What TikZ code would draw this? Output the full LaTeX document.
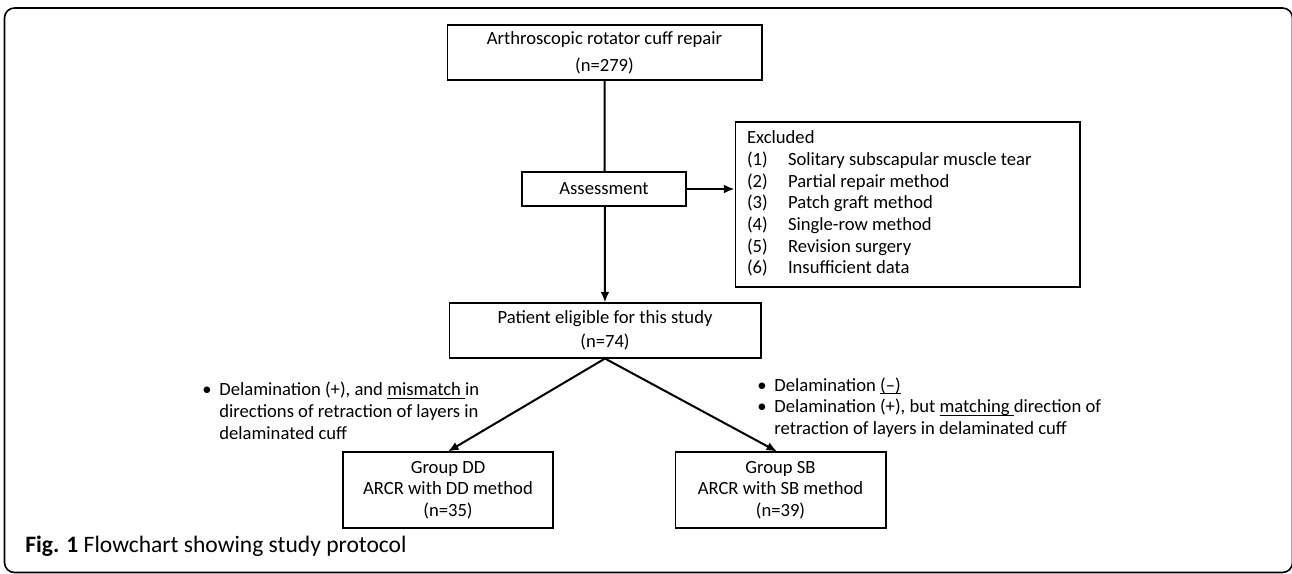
\documentclass[tikz,border=0pt]{standalone}
\usepackage{fontspec}
\setmainfont{Carlito}
\usetikzlibrary{arrows,arrows.meta,positioning}

% underline sitting close to the baseline
\newcommand{\undl}[1]{\setbox0\hbox{#1}\rlap{\rule[-1.6pt]{\wd0}{0.5pt}}\box0}

\begin{document}
\begin{tikzpicture}[->,>={Latex[length=6pt,width=5pt]},x=0.02cm,y=-0.02cm,
                    font=\fontsize{10.6}{12.3}\selectfont]

  \tikzstyle{box}=[rectangle,draw,line width=0.6pt,fill=white,align=center,inner sep=0pt]
  \tikzstyle{note}=[inner sep=0pt,anchor=base west]
  \tikzstyle{flow}=[line width=1.15pt]

  \useasboundingbox (0,0) rectangle (1292,574);
  \draw[-,line width=0.9pt,rounded corners=0.2cm] (4.5,572.5) -- (4.5,8) -- (1292.5,8) -- (1292.5,572.5) -- cycle;

  \node[box,minimum width=6.3cm,minimum height=1.1cm] (ARCR) at (604.5,52.5)
       {Arthroscopic rotator cuff repair\\[3pt](n=279)};
  \node[box,minimum width=6.24cm,minimum height=1.1cm] (EL) at (605,330.5)
       {Patient eligible for this study\\[1pt](n=74)};
  \node[box,minimum width=6.9cm,minimum height=3.3cm] (EX) at (907.5,204.5)
       {\makebox[6.42cm][l]{\begin{tabular}{@{}l@{}l@{}}
        \multicolumn{2}{@{}l@{}}{Excluded}\\
        \makebox[0.82cm][l]{(1)}&Solitary subscapular muscle tear\\
        (2)&Partial repair method\\
        (3)&Patch graft method\\
        (4)&Single-row method\\
        (5)&Revision surgery\\
        (6)&Insufficient data
        \end{tabular}}};
  \node[box,minimum width=4.2cm,minimum height=1.52cm] (DD) at (448,490)
       {Group DD\\ARCR with DD method\\(n=35)};
  \node[box,minimum width=4.22cm,minimum height=1.52cm] (SB) at (780.5,490)
       {Group SB\\ARCR with SB method\\(n=39)};

  \path[flow] (ARCR) edge (EL);

  \node[box,minimum width=3.28cm,minimum height=0.68cm] (AS) at (604,189) {Assessment};

  \path[flow]
  (AS.east) edge (AS.east -| EX.west)
  (EL.south) edge (DD.north)
  (EL.south) edge ([xshift=-0.07cm]SB.north)
  ;

  % group criteria
  \node[note] (DDnote) at (202,396)
       {\begin{tabular}[t]{@{}l@{}l@{}}
        \makebox[0.34cm][l]{\textbullet}&Delamination (+), and \undl{mismatch }in\\
        &directions of retraction of layers in\\
        &delaminated cuff
        \end{tabular}};
  \node[note] (SBnote) at (757,391)
       {\begin{tabular}[t]{@{}l@{}l@{}}
        \makebox[0.34cm][l]{\textbullet}&Delamination \undl{(–)}\\
        \textbullet&Delamination (+), but \undl{matching }direction of\\
        &retraction of layers in delaminated cuff
        \end{tabular}};

  \node[note,font=\fontsize{13.4}{15}\selectfont] (CAP) at (25,552)
       {\textbf{Fig. 1} Flowchart showing study protocol};

\end{tikzpicture}
\end{document}
